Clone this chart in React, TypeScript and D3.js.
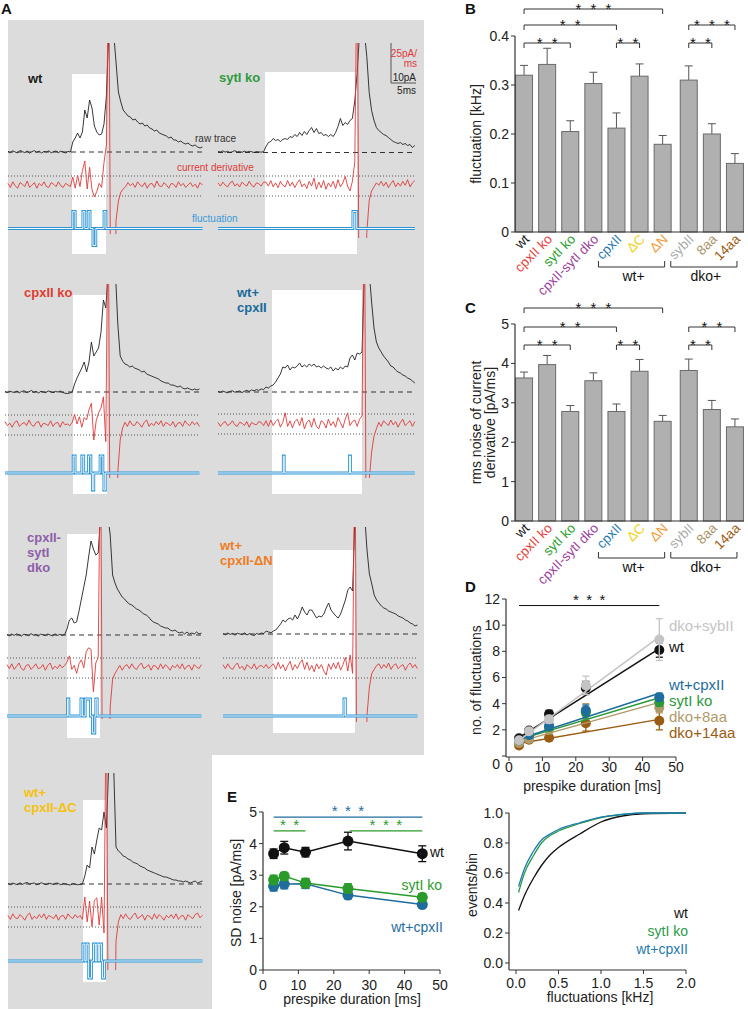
import React from 'react';
import * as d3 from 'd3';

const FONT = '"Liberation Sans", Arial, Helvetica, sans-serif';

// ================= Panel B / C data =================
const categories = ['wt', 'cpxII ko', 'sytI ko', 'cpxII-sytI dko', 'cpxII', '\u0394C', '\u0394N', 'sybII', '8aa', '14aa'];
const categoryColors = ['#111111', '#e8413c', '#2ca02c', '#9c3d9c', '#1f77b4', '#f2d21b', '#f39c3c', '#aaaaaa', '#a8946a', '#9a5b13'];
const fluctMean = [0.32, 0.342, 0.205, 0.303, 0.212, 0.318, 0.179, 0.31, 0.2, 0.14];
const fluctSem = [0.02, 0.033, 0.022, 0.023, 0.031, 0.025, 0.018, 0.029, 0.021, 0.02];
const rmsMean = [3.63, 3.97, 2.78, 3.56, 2.78, 3.8, 2.53, 3.82, 2.83, 2.39];
const rmsSem = [0.15, 0.23, 0.15, 0.2, 0.19, 0.3, 0.15, 0.29, 0.23, 0.2];
const groupLabels = [{ label: 'wt+', from: 4, to: 6 }, { label: 'dko+', from: 7, to: 9 }];
const sigB = [
  { from: 0, to: 6, stars: 3, level: 0 },
  { from: 0, to: 4, stars: 2, level: 1 },
  { from: 0, to: 2, stars: 2, level: 2 },
  { from: 4, to: 5, stars: 2, level: 2 },
  { from: 7, to: 8, stars: 2, level: 2 },
  { from: 7, to: 9, stars: 3, level: 1 },
];
const sigC = [
  { from: 0, to: 6, stars: 3, level: 0 },
  { from: 0, to: 4, stars: 2, level: 1 },
  { from: 0, to: 2, stars: 2, level: 2 },
  { from: 4, to: 5, stars: 2, level: 2 },
  { from: 7, to: 8, stars: 2, level: 2 },
  { from: 7, to: 9, stars: 2, level: 1 },
];
const ticksB = [0, 0.1, 0.2, 0.3, 0.4];
const ticksC = [0, 1, 2, 3, 4, 5];

// ================= Panel D data =================
const dDurations = [3, 6, 12, 23, 45];
const dNames = ['wt', 'dko+sybII', 'wt+cpxII', 'sytI ko', 'dko+8aa', 'dko+14aa'];
const dColors = ['#111111', '#c4c4c4', '#1f6d9c', '#2a9a3a', '#b09a6a', '#9a5c12'];
const dWt = [1.35, 1.95, 3.2, 5.2, 8.1];
const dWtErr = [0.15, 0.2, 0.3, 0.5, 0.55];
const dSyb = [1.2, 1.9, 2.8, 5.4, 8.9];
const dSybErr = [0.15, 0.2, 0.3, 0.7, 1.6];
const dCpx = [1.2, 1.6, 2.3, 3.5, 4.5];
const dCpxErr = [0.1, 0.15, 0.2, 0.4, 0.3];
const dSyt = [1.2, 1.6, 2.2, 3.3, 4.1];
const dSytErr = [0.1, 0.15, 0.2, 0.4, 0.3];
const d8aa = [1.0, 1.3, 2.0, 3.4, 3.7];
const d8aaErr = [0.1, 0.1, 0.3, 0.6, 0.4];
const d14aa = [0.8, 1.25, 1.4, 2.5, 2.7];
const d14aaErr = [0.1, 0.1, 0.15, 0.6, 0.7];
const dFits = [[1.4, 8.2], [1.2, 9.1], [1.3, 4.8], [1.25, 4.45], [1.1, 4.1], [0.95, 2.8]];
const dLabelOrder = [1, 0, 2, 3, 4, 5];

// ================= Panel E data =================
const eDurations = [3, 6, 12, 24, 45];
const eWt = [3.68, 3.87, 3.73, 4.08, 3.68];
const eWtErr = [0.15, 0.2, 0.15, 0.28, 0.25];
const eSyt = [2.85, 2.97, 2.75, 2.58, 2.3];
const eSytErr = [0.15, 0.12, 0.15, 0.15, 0.12];
const eCpx = [2.65, 2.72, 2.73, 2.37, 2.07];
const eCpxErr = [0.15, 0.15, 0.15, 0.12, 0.08];

// ================= Cumulative panel data =================
const cdfX = [0.03, 0.1, 0.2, 0.3, 0.4, 0.5, 0.75, 1.0, 1.25, 1.5, 2.0];
const cdfWt = [0.35, 0.45, 0.56, 0.65, 0.72, 0.77, 0.86, 0.94, 0.98, 0.995, 1.0];
const cdfSyt = [0.47, 0.6, 0.71, 0.8, 0.85, 0.88, 0.93, 0.97, 0.99, 1.0, 1.0];
const cdfCpx = [0.51, 0.63, 0.74, 0.82, 0.86, 0.89, 0.935, 0.972, 0.99, 1.0, 1.0];

// ================= Panel A traces (0.5 ms samples; raw in pA, derivative in pA/ms) =================
const wtRaw = [0.3,-0.4,0.6,0,-0.5,0.8,0.2,-0.3,0.5,-0.6,0.2,0.7,-0.2,0.4,-0.5,0.3,0,0.6,-0.4,0.2,0.5,-0.3,0.4,0,-0.5,0.3,0,
  5,7,9.5,7,10,21,17,26,22,13,10,8.5,9,14,28,60,60,60,45,30,25,21,
  19.5,18,17.5,16,16.5,15,14,14.5,13,13.5,12,11.5,10.5,11,9.5,9,8.5,8,7,7.5,6,6,5,5.5,4.5,4,4.5,3.5,3,3.5,2.5,2,2.5];
const wtDer = [2,-3,4,-1,-4,3,1,-2,5,-3,0,3,-4,2,-1,4,-2,-3,3,1,-2,4,-1,-3,2,0,-2,
  10,-4,12,-2,18,30,-5,22,-6,-15,-8,2,-3,28,50,300,-300,-300,-45,-20,-9,-5,
  -2,3,-1,2,-3,4,0,-2,3,-4,1,2,-3,5,-1,-2,3,0,-4,2,1,-3,4,-1,2,-3,0,3,-2,1,-4,3,0];
const wtPulses = [[13.5,14.0,1],[15.6,16.0,1],[16.7,17.1,1],[17.7,18.3,-1],[20.0,20.4,1]];

const sytRaw = [0.5,0.3,0.8,0.2,0.6,0,0.4,0.9,0.3,0.5,0.1,0.7,0.2,0.6,0.4,0,0.5,0.3,0.2,0.4,
  3,5,5.5,7,6,6.5,5.5,6.5,7,6.5,8,7.5,9,8,10,8.5,10.5,9,11,12.5,10,12,9.5,10,8.5,9,8,9,8,10,13,17,13.5,15,14,16,17,
  26,40,60,60,60,48,30,21,16,12.5,11,10,9,8.5,7.5,6.5,5.5,5,4.5,5,4,4.5,3.5,4,2.5,3.5];
const sytDer = [2,-2,3,-1,-3,2,4,-2,1,-3,3,0,-2,4,-1,-3,2,1,-2,3,
  3,-2,5,-3,2,-4,4,-1,-3,5,-2,3,-4,2,6,-3,1,-5,4,-2,8,-6,3,-4,5,-6,2,-3,4,-5,6,-3,2,10,-2,-8,4,
  28,300,-300,-300,-300,-60,-20,-8,-3,2,-1,4,-2,3,-4,1,5,-3,2,-2,4,-1,6,-3,2,5];
const sytPulses = [[28.1,28.9,1]];

const cpxKoRaw = [0.2,-0.3,0.4,0,-0.2,0.5,-0.4,0.3,0.6,-0.3,0.1,0.8,-0.2,0.3,-0.5,0.4,0,-0.3,0.5,0.2,-0.4,0.3,0,0.5,-0.2,-0.6,-0.8,-0.5,0,
  4,7,9.5,12,15,10,15,25,18,20,22,30,46,42,60,60,60,60,34,18,15.5,14,
  13.5,12.5,13,12,11.5,11,10,10.5,9,8.5,8,7.5,7,6.5,5.5,5,4.5,4.5,3.5,3.5,3,2.5,3,2,1.5,2,1.5,1,1.5,1,1.5];
const cpxKoDer = [3,-2,1,-4,2,4,-3,0,2,-2,5,-1,-3,2,3,-4,1,0,-2,4,-3,1,2,-4,3,-1,0,-2,2,
  12,0,9,-4,8,5,18,26,-20,4,14,20,34,-22,300,-300,-300,-300,-60,-20,-5,
  2,-3,4,-1,-2,3,0,-4,2,5,-3,1,-2,3,-1,4,-3,2,0,-2,3,-4,1,2,-3,4,0,-2,3,-1,2,-3];
const cpxKoPulses = [[14.2,14.6,1],[16.0,16.4,1],[17.4,17.9,1],[18.2,18.5,-1],[19.8,20.4,1],[20.6,20.9,-1]];

const wtCpxRaw = [0.3,-0.2,0.5,0,-0.4,0.3,0.6,-0.1,0.2,0.5,-0.3,0.4,0.8,0.3,1,0.6,1.2,0.8,1.5,1.2,
  2.5,2,3,3.5,5,7,9,12.5,12,13.5,11,12.5,12,13,14.5,12.5,13.5,12.5,14,13,14,12.5,13,12,13,12,11.5,12.5,10.5,12,11,12.5,11.5,13,12.5,17,18.5,16,19.5,19,20,
  60,60,60,45,32,25,22,20,18,16.5,15,13,12.5,11,10,9.5,8.5,8,7,6.5,5.5,4.5];
const wtCpxDer = [2,-3,1,3,-2,0,4,-1,-3,2,1,-2,3,-4,2,0,-1,3,2,-2,
  4,-3,5,-2,3,6,-4,2,14,-3,4,-5,3,6,-2,8,-6,2,5,-4,7,-3,-6,4,2,-5,6,-2,3,-4,8,2,-5,6,14,-2,3,5,-3,6,10,
  300,-300,-70,-35,-15,-6,2,-3,4,1,-2,5,-1,3,-4,2,6,-2,1,4,-3,3];
const wtCpxPulses = [[13.6,13.8,1],[27.4,27.6,1]];

const dkoRaw = [0.3,-0.4,0.5,-0.2,0.6,0,-0.5,0.4,0.2,-0.3,0.7,-0.1,0.3,-0.6,0.4,0.1,-0.3,0.5,0,-0.4,0.6,-0.2,0.3,-0.1,0.2,
  3,7.5,8.5,6,6.5,12,18,24,30,39,47,43,40,41,60,60,60,60,50,30,26,23,21,19,18,16.5,
  15.5,15,14,13,12.5,11.5,10.5,10,9,7.5,6.5,6,5.5,4.5,4,3.5,3.5,2.5,2,2.5,1.5,1,1.5,0.5,1.5,0.5,1,0.5,1.5,0.5,1];
const dkoDer = [3,-2,4,-3,1,5,-2,-4,2,3,-3,0,4,-2,-1,3,-4,2,5,-3,1,-2,3,-1,2,
  6,14,-3,2,-8,4,9,-1,19,24,22,-31,5,12,300,-300,-300,-300,-50,-15,-8,
  -3,2,-4,1,3,-2,4,-1,-3,2,5,-2,0,3,-4,2,1,-3,4,-2,3,0,-4,2,-1,3,-2,4,-3,1,2,-4,3,0,-2,3];
const dkoPulses = [[12.6,12.9,1],[15.4,15.7,1],[16.3,17.4,1],[17.8,18.3,-1],[18.5,18.8,1]];

const dNRaw = [0.2,-0.4,0.5,-0.2,0.3,-0.6,0.4,0,-0.3,0.6,-0.5,0.2,-0.4,-0.8,0.3,-0.2,0.5,0.2,1.5,1,0.6,
  1.5,2,3.5,5,7,6,7.5,8,7,9.5,7.5,10,13.5,11,9.5,12,12,10,8,9,8.5,10,13,15.5,12,10.5,9,8,10,13.5,17,22,23.5,21.5,
  60,60,60,60,60,42,30,25,19.5,17,15.5,14,13,12.5,11.5,11,10.5,10,9,8.5,8,7,6.5,5.5,5,4,4.5];
const dNDer = [3,-2,4,-1,-3,2,5,-2,1,-4,3,0,-2,4,-3,1,2,-1,3,-2,1,
  4,-3,6,-2,3,-5,2,7,-4,3,-2,5,9,-3,6,-4,2,-6,4,-2,3,-5,-10,4,-3,5,-2,6,-4,3,12,-5,15,-8,
  300,-300,-300,-300,-300,-60,-25,-8,-3,2,4,-2,3,-1,5,-3,2,4,-2,1,3,-4,2,5,-1,3,-2];
const dNPulses = [[25.2,25.5,1]];

const dCRaw = [0.3,-0.4,0.5,0,-0.3,0.6,-0.2,0.4,0.8,-0.1,0.3,0.5,-0.4,0.2,0.6,0,-0.3,0.4,0.1,-0.2,0.5,0.3,-0.4,0.2,0,-0.3,-0.5,0.2,-0.1,-0.4,-0.2,0,
  4,9.5,8,18.5,15,22,28,27,36,28,60,60,60,18.5,16.5,15.5,14,13.5,12.5,
  12,11,10.5,10,9,8.5,8,7,6.5,6,5.5,5,4.5,4,3.5,3.5,3,2.5,2,2,1.5,1.5,1,1.5,1,0.5,1,1.5,0.5,1,1.5];
const dCDer = [2,-3,4,-1,-2,3,0,-4,2,5,-3,1,-2,3,-1,4,-3,2,0,-2,3,-4,1,2,-3,4,0,-2,3,-1,2,-3,
  25,-6,20,-12,21,24,-10,25,-20,300,-300,-300,-300,-30,-6,
  3,-2,4,-1,-3,2,5,-2,0,3,-4,2,1,-3,4,-2,3,0,-4,2,-1,3,-2,4,-3,1,2,-4,3,0,-2,3,5,-1,2];
const dCPulses = [[15.6,16.0,1],[16.3,16.7,1],[16.8,17.4,-1],[17.8,18.2,1],[18.5,18.9,1],[19.1,19.5,1],[19.7,20.1,-1]];

const DT = 0.5;

// layout for the trace panels (positions only)
const aPanels = [
  { id: 'wt', label: ['wt'], color: '#1a1a1a', lx: 28, ly: 83, x0: 8, raw: wtRaw, der: wtDer, pulses: wtPulses, rawBase: 152, derBase: 185, thrHi: 176, thrLo: 196, flBase: 228.5, top: 43, bottom: 234, box: [72, 74, 106, 254] },
  { id: 'syt', label: ['sytI ko'], color: '#2e9a3e', lx: 219, ly: 82, x0: 218, raw: sytRaw, der: sytDer, pulses: sytPulses, rawBase: 152.5, derBase: 184.5, thrHi: 176, thrLo: 196, flBase: 228.5, top: 43, bottom: 238, box: [265, 72, 357, 254] },
  { id: 'cpxko', label: ['cpxII ko'], color: '#e03c31', lx: 24, ly: 297, x0: 5, raw: cpxKoRaw, der: cpxKoDer, pulses: cpxKoPulses, rawBase: 392, derBase: 424, thrHi: 415, thrLo: 435, flBase: 473, top: 284, bottom: 478, box: [73, 295, 107, 494] },
  { id: 'wtcpx', label: ['wt+', 'cpxII'], color: '#1a6a9a', lx: 237, ly: 297, x0: 218, raw: wtCpxRaw, der: wtCpxDer, pulses: wtCpxPulses, rawBase: 392, derBase: 424, thrHi: 414, thrLo: 434, flBase: 473, top: 284, bottom: 478, box: [272, 290, 362, 494] },
  { id: 'dko', label: ['cpxII-', 'sytI', 'dko'], color: '#8e5fa8', lx: 27, ly: 542, x0: 7, raw: dkoRaw, der: dkoDer, pulses: dkoPulses, rawBase: 635, derBase: 667, thrHi: 658, thrLo: 678, flBase: 716, top: 527, bottom: 719, box: [67, 534, 100, 738] },
  { id: 'dN', label: ['wt+', 'cpxII-\u0394N'], color: '#f07c1e', lx: 220, ly: 550, x0: 223, raw: dNRaw, der: dNDer, pulses: dNPulses, rawBase: 634, derBase: 667, thrHi: 658, thrLo: 678, flBase: 716, top: 527, bottom: 722, box: [273, 550, 355, 733] },
  { id: 'dC', label: ['wt+', 'cpxII-\u0394C'], color: '#f5c20c', lx: 24, ly: 797, x0: 8, raw: dCRaw, der: dCDer, pulses: dCPulses, rawBase: 884, derBase: 917, thrHi: 907, thrLo: 927, flBase: 961, top: 773, bottom: 970, box: [83, 800, 106, 982] },
];

function TracePanel({ p }: any) {
  const n = Math.max(p.raw.length, p.der.length);
  const tEnd = (n - 1) * DT;
  const x = d3.scaleLinear().domain([0, 10]).range([p.x0, p.x0 + 48]);
  const yRaw = d3.scaleLinear().domain([0, 10]).range([p.rawBase, p.rawBase - 20]);
  const yDer = d3.scaleLinear().domain([0, 25]).range([p.derBase, p.derBase - 20]);
  const rawLine = d3.line<number>().x((_, i) => x(i * DT)).y((d) => yRaw(d));
  const derLine = d3.line<number>().x((_, i) => x(i * DT)).y((d) => yDer(d));
  const h = 17;
  const pulses = [...p.pulses].sort((a: number[], b: number[]) => a[0] - b[0]);
  let fd = `M${x(0)},${p.flBase}`;
  for (const [s, e, dir] of pulses) {
    const yy = p.flBase - dir * h;
    fd += `L${x(s)},${p.flBase}L${x(s)},${yy}L${x(e)},${yy}L${x(e)},${p.flBase}`;
  }
  fd += `L${x(tEnd)},${p.flBase}`;
  const clipId = `clip-${p.id}`;
  const [bx1, by1, bx2, by2] = p.box;
  return (
    <g>
      <defs>
        <clipPath id={clipId}>
          <rect x={p.x0 - 3} y={p.top} width={x(tEnd) - p.x0 + 6} height={p.bottom - p.top} />
        </clipPath>
      </defs>
      <rect x={bx1} y={by1} width={bx2 - bx1} height={by2 - by1} fill="#ffffff" />
      <line x1={x(0)} x2={x(tEnd)} y1={p.rawBase} y2={p.rawBase} stroke="#333" strokeWidth={1} strokeDasharray="5,4" />
      <line x1={x(0)} x2={x(tEnd)} y1={p.thrHi} y2={p.thrHi} stroke="#555" strokeWidth={1} strokeDasharray="1,2" />
      <line x1={x(0)} x2={x(tEnd)} y1={p.thrLo} y2={p.thrLo} stroke="#555" strokeWidth={1} strokeDasharray="1,2" />
      <g clipPath={`url(#${clipId})`}>
        <path d={rawLine(p.raw) || ''} fill="none" stroke="#222" strokeWidth={0.9} strokeLinejoin="round" />
        <path d={derLine(p.der) || ''} fill="none" stroke="#e03a3a" strokeWidth={0.9} strokeLinejoin="round" />
      </g>
      <path d={fd} fill="none" stroke="#2f95d6" strokeWidth={2.8} />
      <path d={fd} fill="none" stroke="#eef7fc" strokeWidth={1} />
      {p.label.map((l: string, i: number) => (
        <text key={i} x={p.lx} y={p.ly + i * 15} fontSize={13} fontWeight="bold" fill={p.color}>{l}</text>
      ))}
    </g>
  );
}

function Stars({ cx, y, n, gap, color = '#111', size = 15 }: any) {
  return (
    <g>
      {d3.range(n).map((k) => (
        <text key={k} x={cx + (k - (n - 1) / 2) * gap} y={y} fontSize={size} textAnchor="middle" fill={color}>*</text>
      ))}
    </g>
  );
}

function BarPanel({ mean, sem, yMax, y0, y1, ticks, fmt, sig, levels, groupY, yLabel }: any) {
  const band = d3.scaleBand<number>().domain(d3.range(categories.length)).range([512.5, 743.5]).paddingInner(0.264).paddingOuter(0.132);
  const cx = (i: number) => (band(i) as number) + band.bandwidth() / 2 + (i >= 7 ? 3 : 0);
  const y = d3.scaleLinear().domain([0, yMax]).range([y0, y1]);
  const axisX = 515;
  const bw = band.bandwidth();
  return (
    <g>
      {mean.map((m: number, i: number) => (
        <g key={i}>
          <line x1={cx(i)} x2={cx(i)} y1={y(m)} y2={y(m + sem[i])} stroke="#555" strokeWidth={1} />
          <line x1={cx(i) - 4} x2={cx(i) + 4} y1={y(m + sem[i])} y2={y(m + sem[i])} stroke="#555" strokeWidth={1} />
          <rect x={cx(i) - bw / 2} y={y(m)} width={bw} height={y0 - y(m)} fill="#b0b0b0" stroke="#6a6a6a" strokeWidth={1} />
        </g>
      ))}
      <line x1={axisX} x2={axisX} y1={y0} y2={y1} stroke="#333" strokeWidth={1.2} />
      <line x1={axisX} x2={744} y1={y0} y2={y0} stroke="#333" strokeWidth={1.2} />
      {ticks.map((t: number) => (
        <g key={t}>
          <line x1={axisX - 4} x2={axisX} y1={y(t)} y2={y(t)} stroke="#333" strokeWidth={1} />
          <text x={axisX - 6} y={y(t)} dy="0.35em" fontSize={14} textAnchor="end" fill="#222">{fmt(t)}</text>
        </g>
      ))}
      {categories.map((c, i) => (
        <text key={c} transform={`translate(${cx(i) + 6},${y0 + 8}) rotate(-45)`} fontSize={13.5} textAnchor="end" fill={categoryColors[i]}>{c}</text>
      ))}
      {groupLabels.map((g) => {
        const xa = cx(g.from) - 18;
        const xb = cx(g.to) + 2;
        return (
          <g key={g.label}>
            <path d={`M${xa},${groupY - 6}V${groupY}H${xb}V${groupY - 6}`} fill="none" stroke="#333" strokeWidth={1} />
            <text x={(xa + xb) / 2 + 2} y={groupY + 14} fontSize={14} textAnchor="middle" fill="#111">{g.label}</text>
          </g>
        );
      })}
      {sig.map((s: any, k: number) => {
        const ly = levels[s.level];
        const xa = cx(s.from);
        const xb = cx(s.to);
        return (
          <g key={k}>
            <path d={`M${xa},${ly + 5}V${ly}H${xb}V${ly + 5}`} fill="none" stroke="#333" strokeWidth={1} />
            <Stars cx={(xa + xb) / 2} y={ly + 4.5} n={s.stars} gap={15} />
          </g>
        );
      })}
      {yLabel.map((l: string, i: number) => (
        <text key={i} transform={`translate(${481 + i * 13.5},${(y0 + y1) / 2}) rotate(-90)`} fontSize={14} textAnchor="middle" fill="#222">{l}</text>
      ))}
    </g>
  );
}

function PanelD() {
  const x = d3.scaleLinear().domain([0, 50]).range([509, 676]);
  const y = d3.scaleLinear().domain([0, 12]).range([756, 599]);
  const series = [
    { v: dWt, e: dWtErr }, { v: dSyb, e: dSybErr }, { v: dCpx, e: dCpxErr },
    { v: dSyt, e: dSytErr }, { v: d8aa, e: d8aaErr }, { v: d14aa, e: d14aaErr },
  ];
  const order = [5, 4, 3, 2, 0, 1];
  const labelY = [631, 652, 690, 706, 722, 738];
  return (
    <g>
      {order.map((k) => {
        const s = series[k];
        const c = dColors[k];
        const t0 = dDurations[0];
        const t1 = dDurations[dDurations.length - 1];
        return (
          <g key={k}>
            <line x1={x(t0)} x2={x(t1)} y1={y(dFits[k][0])} y2={y(dFits[k][1])} stroke={c} strokeWidth={1.5} />
            {s.v.map((v: number, i: number) => (
              <g key={i}>
                <line x1={x(dDurations[i])} x2={x(dDurations[i])} y1={y(v - s.e[i])} y2={y(v + s.e[i])} stroke={c} strokeWidth={1.3} />
                <line x1={x(dDurations[i]) - 3.5} x2={x(dDurations[i]) + 3.5} y1={y(v - s.e[i])} y2={y(v - s.e[i])} stroke={c} strokeWidth={1.3} />
                <line x1={x(dDurations[i]) - 3.5} x2={x(dDurations[i]) + 3.5} y1={y(v + s.e[i])} y2={y(v + s.e[i])} stroke={c} strokeWidth={1.3} />
                <circle cx={x(dDurations[i])} cy={y(v)} r={5} fill={c} />
              </g>
            ))}
          </g>
        );
      })}
      <line x1={x(3)} x2={x(45)} y1={y(11.5)} y2={y(11.5)} stroke="#111" strokeWidth={1} />
      <Stars cx={x(24)} y={y(11.5) - 1} n={3} gap={13.3} size={15} />
      <line x1={506} x2={506} y1={757} y2={y(12)} stroke="#333" strokeWidth={1.2} />
      <line x1={506} x2={x(50)} y1={757} y2={757} stroke="#333" strokeWidth={1.2} />
      {d3.range(0, 13, 2).map((t) => (
        <g key={t}>
          <line x1={502} x2={506} y1={y(t)} y2={y(t)} stroke="#333" />
          <text x={500} y={t === 0 ? y(t) + 8 : y(t)} dy="0.35em" fontSize={14} textAnchor="end" fill="#222">{t}</text>
        </g>
      ))}
      {d3.range(0, 51, 10).map((t) => (
        <g key={t}>
          <line x1={x(t)} x2={x(t)} y1={757} y2={761} stroke="#333" />
          <text x={x(t)} y={772} fontSize={14} textAnchor="middle" fill="#222">{t}</text>
        </g>
      ))}
      <text x={592} y={791} fontSize={14} textAnchor="middle" fill="#222">prespike duration [ms]</text>
      <text transform={`translate(481,680) rotate(-90)`} fontSize={14} textAnchor="middle" fill="#222">no. of fluctuations</text>
      {dLabelOrder.map((k, j) => (
        <text key={k} x={669} y={labelY[j]} fontSize={15} fill={dColors[k]}>{dNames[k]}</text>
      ))}
    </g>
  );
}

function ErrPlot({ x, y, t, v, e, c, r }: any) {
  const line = d3.line<number>().x((_, i) => x(t[i])).y((d) => y(d));
  return (
    <g>
      <path d={line(v) || ''} fill="none" stroke={c} strokeWidth={1.5} />
      {v.map((d: number, i: number) => (
        <g key={i}>
          <line x1={x(t[i])} x2={x(t[i])} y1={y(d - e[i])} y2={y(d + e[i])} stroke={c} strokeWidth={1.3} />
          <line x1={x(t[i]) - 4} x2={x(t[i]) + 4} y1={y(d - e[i])} y2={y(d - e[i])} stroke={c} strokeWidth={1.3} />
          <line x1={x(t[i]) - 4} x2={x(t[i]) + 4} y1={y(d + e[i])} y2={y(d + e[i])} stroke={c} strokeWidth={1.3} />
          <circle cx={x(t[i])} cy={y(d)} r={r} fill={c} />
        </g>
      ))}
    </g>
  );
}

function PanelE() {
  const x = d3.scaleLinear().domain([0, 50]).range([263, 440]);
  const y = d3.scaleLinear().domain([0, 5]).range([970, 812]);
  const blue = '#1f6d9c';
  const green = '#2a9a2a';
  return (
    <g>
      <text x={227} y={802} fontSize={15} fontWeight="bold" fill="#111">E</text>
      <ErrPlot x={x} y={y} t={eDurations} v={eCpx} e={eCpxErr} c={blue} r={5.5} />
      <ErrPlot x={x} y={y} t={eDurations} v={eSyt} e={eSytErr} c={green} r={5.5} />
      <ErrPlot x={x} y={y} t={eDurations} v={eWt} e={eWtErr} c="#111" r={5.5} />
      <line x1={x(3)} x2={x(45)} y1={y(4.84)} y2={y(4.84)} stroke={blue} strokeWidth={1.2} />
      <Stars cx={x(24)} y={y(4.84) - 1} n={3} gap={13.3} size={15} color={blue} />
      <line x1={x(3)} x2={x(12)} y1={y(4.4)} y2={y(4.4)} stroke={green} strokeWidth={1.2} />
      <Stars cx={x(7.5)} y={y(4.4) - 1} n={2} gap={13.3} size={15} color={green} />
      <line x1={x(24.5)} x2={x(45)} y1={y(4.4)} y2={y(4.4)} stroke={green} strokeWidth={1.2} />
      <Stars cx={x(34.7)} y={y(4.4) - 1} n={3} gap={13.3} size={15} color={green} />
      <line x1={263} x2={263} y1={970} y2={y(5)} stroke="#333" strokeWidth={1.2} />
      <line x1={263} x2={440} y1={970} y2={970} stroke="#333" strokeWidth={1.2} />
      {d3.range(0, 6).map((t) => (
        <g key={t}>
          <line x1={259} x2={263} y1={y(t)} y2={y(t)} stroke="#333" />
          <text x={257} y={y(t)} dy="0.35em" fontSize={14} textAnchor="end" fill="#222">{t}</text>
        </g>
      ))}
      {d3.range(0, 51, 10).map((t) => (
        <g key={t}>
          <line x1={x(t)} x2={x(t)} y1={970} y2={974} stroke="#333" />
          <text x={x(t)} y={990} fontSize={14} textAnchor="middle" fill="#222">{t}</text>
        </g>
      ))}
      <text x={352} y={1004} fontSize={14} textAnchor="middle" fill="#222">prespike duration [ms]</text>
      <text transform={`translate(241,893) rotate(-90)`} fontSize={14} textAnchor="middle" fill="#222">SD noise [pA/ms]</text>
      <text x={430} y={857} fontSize={14} fill="#111">wt</text>
      <text x={442} y={890} fontSize={14} textAnchor="end" fill={green}>sytI ko</text>
      <text x={443} y={932} fontSize={14} textAnchor="end" fill={blue}>wt+cpxII</text>
    </g>
  );
}

function PanelCdf() {
  const x = d3.scaleLinear().domain([0, 2]).range([516, 686]);
  const y = d3.scaleLinear().domain([0, 1]).range([963, 813]);
  const line = d3.line<number>().x((_, i) => x(cdfX[i])).y((d) => y(d)).curve(d3.curveMonotoneX);
  const fmt = d3.format('.1f');
  return (
    <g>
      <path d={line(cdfWt) || ''} fill="none" stroke="#111" strokeWidth={1.3} />
      <path d={line(cdfSyt) || ''} fill="none" stroke="#2a9a4a" strokeWidth={1.3} />
      <path d={line(cdfCpx) || ''} fill="none" stroke="#1f7ab0" strokeWidth={1.3} />
      <line x1={509} x2={509} y1={970} y2={813} stroke="#333" strokeWidth={1.2} />
      <line x1={509} x2={686} y1={970} y2={970} stroke="#333" strokeWidth={1.2} />
      {d3.range(0, 1.01, 0.2).map((t) => (
        <g key={t}>
          <line x1={505} x2={509} y1={y(t)} y2={y(t)} stroke="#333" />
          <text x={503} y={y(t)} dy="0.35em" fontSize={14} textAnchor="end" fill="#222">{fmt(t)}</text>
        </g>
      ))}
      {d3.range(0, 2.01, 0.5).map((t) => (
        <g key={t}>
          <line x1={x(t)} x2={x(t)} y1={970} y2={974} stroke="#333" />
          <text x={x(t)} y={988} fontSize={14} textAnchor="middle" fill="#222">{fmt(t)}</text>
        </g>
      ))}
      <text x={600} y={1002} fontSize={14} textAnchor="middle" fill="#222">fluctuations [kHz]</text>
      <text transform={`translate(477,885) rotate(-90)`} fontSize={14} textAnchor="middle" fill="#222">events/bin</text>
      <text x={688} y={918} fontSize={14} textAnchor="end" fill="#111">wt</text>
      <text x={688} y={936} fontSize={14} textAnchor="end" fill="#2a9a4a">sytI ko</text>
      <text x={688} y={954} fontSize={14} textAnchor="end" fill="#1f7ab0">wt+cpxII</text>
    </g>
  );
}

export default function App() {
  return (
    <svg width={748} height={1009} style={{ position: 'absolute', left: 0, top: 0, display: 'block' }} fontFamily={FONT}>
      <rect x={0} y={0} width={748} height={1009} fill="#ffffff" />
      <path d="M8,20H424V755H212V1009H8Z" fill="#dcdcdc" />
      <text x={1} y={14} fontSize={15} fontWeight="bold" fill="#111">A</text>
      {aPanels.map((p) => <TracePanel key={p.id} p={p} />)}
      <text x={195} y={142} fontSize={10} fill="#333">raw trace</text>
      <text x={177} y={171} fontSize={10} fill="#e03a3a">current derivative</text>
      <text x={192} y={222} fontSize={10} fill="#3a9ad6">fluctuation</text>
      <line x1={391} x2={391} y1={43} y2={83} stroke="#555" strokeWidth={1} />
      <line x1={391} x2={416} y1={83} y2={83} stroke="#555" strokeWidth={1} />
      <text x={417} y={57} fontSize={10} textAnchor="end" fill="#e03a3a">25pA/</text>
      <text x={417} y={67} fontSize={10} textAnchor="end" fill="#e03a3a">ms</text>
      <text x={416} y={81} fontSize={10} textAnchor="end" fill="#222">10pA</text>
      <text x={416} y={94} fontSize={10} textAnchor="end" fill="#222">5ms</text>

      <text x={465} y={14} fontSize={15} fontWeight="bold" fill="#111">B</text>
      <BarPanel mean={fluctMean} sem={fluctSem} yMax={0.4} y0={232} y1={36} ticks={ticksB} fmt={(t: number) => (t === 0 ? '0' : d3.format('.1f')(t))} sig={sigB} levels={[9, 25, 43]} groupY={267} yLabel={['fluctuation [kHz]']} />

      <text x={465} y={313} fontSize={15} fontWeight="bold" fill="#111">C</text>
      <BarPanel mean={rmsMean} sem={rmsSem} yMax={5} y0={521} y1={324} ticks={ticksC} fmt={(t: number) => String(t)} sig={sigC} levels={[308, 327, 345]} groupY={558} yLabel={['rms noise of current', 'derivative [pA/ms]']} />

      <text x={465} y={592} fontSize={15} fontWeight="bold" fill="#111">D</text>
      <PanelD />
      <PanelE />
      <PanelCdf />
    </svg>
  );
}
